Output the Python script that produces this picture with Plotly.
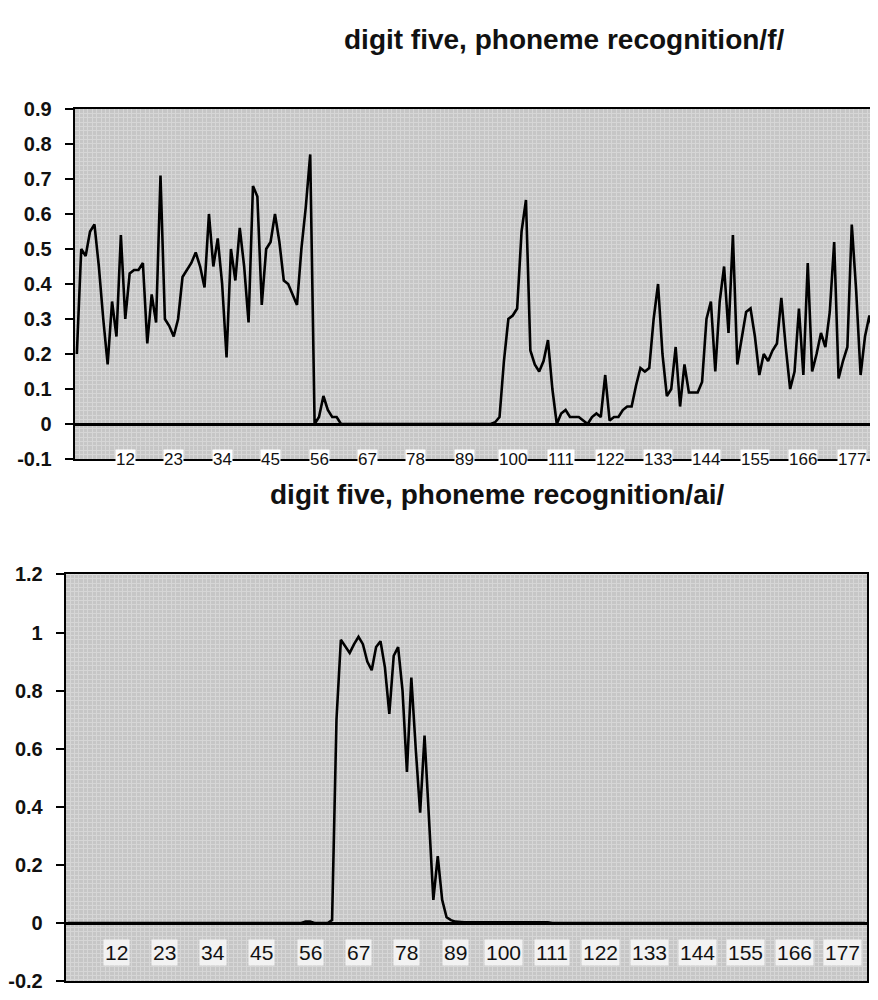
import plotly.graph_objects as go

# frame index 1..182 (category axis), labels every 11 frames
frames = list(range(1, 183))
tick_labels = [12, 23, 34, 45, 56, 67, 78, 89, 100, 111, 122, 133, 144, 155, 166, 177]

# output of the /f/ recogniser per frame
f_output = [
    0.20, 0.50, 0.48, 0.55, 0.57, 0.45, 0.30, 0.17, 0.35, 0.25,
    0.54, 0.30, 0.43, 0.44, 0.44, 0.46, 0.23, 0.37, 0.29, 0.71,
    0.30, 0.28, 0.25, 0.30, 0.42, 0.44, 0.46, 0.49, 0.45, 0.39,
    0.60, 0.45, 0.53, 0.40, 0.19, 0.50, 0.41, 0.56, 0.45, 0.29,
    0.68, 0.65, 0.34, 0.50, 0.52, 0.60, 0.52, 0.41, 0.40, 0.37,
    0.34, 0.50, 0.62, 0.77, 0.00, 0.02, 0.08, 0.04, 0.02, 0.02,
    0.00, 0.00, 0.00, 0.00, 0.00, 0.00, 0.00, 0.00, 0.00, 0.00,
    0.00, 0.00, 0.00, 0.00, 0.00, 0.00, 0.00, 0.00, 0.00, 0.00,
    0.00, 0.00, 0.00, 0.00, 0.00, 0.00, 0.00, 0.00, 0.00, 0.00,
    0.00, 0.00, 0.00, 0.00, 0.00, 0.005, 0.02, 0.18, 0.30, 0.31,
    0.33, 0.55, 0.64, 0.21, 0.17, 0.15, 0.18, 0.24, 0.10, 0.00,
    0.03, 0.04, 0.02, 0.02, 0.02, 0.01, 0.00, 0.02, 0.03, 0.02,
    0.14, 0.01, 0.02, 0.02, 0.04, 0.05, 0.05, 0.11, 0.16, 0.15,
    0.16, 0.30, 0.40, 0.20, 0.08, 0.10, 0.22, 0.05, 0.17, 0.09,
    0.09, 0.09, 0.12, 0.30, 0.35, 0.15, 0.35, 0.45, 0.26, 0.54,
    0.17, 0.25, 0.32, 0.33, 0.25, 0.14, 0.20, 0.18, 0.21, 0.23,
    0.36, 0.22, 0.10, 0.15, 0.33, 0.14, 0.46, 0.15, 0.20, 0.26,
    0.22, 0.32, 0.52, 0.13, 0.18, 0.22, 0.57, 0.38, 0.14, 0.25,
    0.31, 0.25,
]

# output of the /ai/ recogniser per frame
ai_output = [
    0.00, 0.00, 0.00, 0.00, 0.00, 0.00, 0.00, 0.00, 0.00, 0.00,
    0.00, 0.00, 0.00, 0.00, 0.00, 0.00, 0.00, 0.00, 0.00, 0.00,
    0.00, 0.00, 0.00, 0.00, 0.00, 0.00, 0.00, 0.00, 0.00, 0.00,
    0.00, 0.00, 0.00, 0.00, 0.00, 0.00, 0.00, 0.00, 0.00, 0.00,
    0.00, 0.00, 0.00, 0.00, 0.00, 0.00, 0.00, 0.00, 0.00, 0.00,
    0.00, 0.00, 0.00, 0.00, 0.005, 0.005, 0.00, 0.00, 0.00, 0.00,
    0.01, 0.70, 0.975, 0.95, 0.93, 0.96, 0.985, 0.96, 0.90, 0.87,
    0.95, 0.97, 0.88, 0.72, 0.92, 0.95, 0.80, 0.52, 0.845, 0.60,
    0.38, 0.645, 0.35, 0.08, 0.23, 0.08, 0.02, 0.01, 0.005, 0.003,
    0.003, 0.003, 0.003, 0.003, 0.003, 0.003, 0.003, 0.003, 0.003, 0.003,
    0.003, 0.003, 0.003, 0.003, 0.003, 0.003, 0.003, 0.003, 0.003, 0.003,
    0.00, 0.00, 0.00, 0.00, 0.00, 0.00, 0.00, 0.00, 0.00, 0.00,
    0.00, 0.00, 0.00, 0.00, 0.00, 0.00, 0.00, 0.00, 0.00, 0.00,
    0.00, 0.00, 0.00, 0.00, 0.00, 0.00, 0.00, 0.00, 0.00, 0.00,
    0.00, 0.00, 0.00, 0.00, 0.00, 0.00, 0.00, 0.00, 0.00, 0.00,
    0.00, 0.00, 0.00, 0.00, 0.00, 0.00, 0.00, 0.00, 0.00, 0.00,
    0.00, 0.00, 0.00, 0.00, 0.00, 0.00, 0.00, 0.00, 0.00, 0.00,
    0.00, 0.00, 0.00, 0.00, 0.00, 0.00, 0.00, 0.00, 0.00, 0.00,
    0.00, 0.00,
]

top_yticks = [0.9, 0.8, 0.7, 0.6, 0.5, 0.4, 0.3, 0.2, 0.1, 0, -0.1]
bot_yticks = [1.2, 1, 0.8, 0.6, 0.4, 0.2, 0, -0.2]

FONT = "Liberation Sans, Arial, sans-serif"
PLOT_BG = "#c6c6c6"
MESH = "#d6d6d6"

# the page body adds an 8px margin, so lay out on a canvas that is 8px smaller
OFF = 8
W, H = 878 - OFF, 1000 - OFF


def px_x(p):
    return (p - OFF) / W


def px_y(p):
    return 1 - (p - OFF) / H


fig = go.Figure()
fig.add_trace(go.Scatter(x=frames, y=f_output, mode="lines",
                         line=dict(color="black", width=2.6), xaxis="x", yaxis="y"))
fig.add_trace(go.Scatter(x=frames, y=ai_output, mode="lines",
                         line=dict(color="black", width=2.6), xaxis="x2", yaxis="y2"))

xcommon = dict(range=[0.5, 182.5], showticklabels=False, ticks="", showgrid=False,
               zeroline=False, showline=True, linecolor="black", linewidth=2, mirror=True,
               minor=dict(tick0=0.5, dtick=1, showgrid=True, gridcolor=MESH, gridwidth=1))
ycommon = dict(showgrid=False, zeroline=True, zerolinecolor="black", zerolinewidth=3,
               showline=True, linecolor="black", linewidth=2, mirror=True,
               ticks="outside", ticklen=8, tickwidth=2, tickcolor="black",
               ticklabelstandoff=9,
               tickfont=dict(family=FONT, size=20, color="#111", weight="bold"))

fig.update_layout(
    width=W, height=H,
    margin=dict(l=0, r=0, t=0, b=0),
    paper_bgcolor="white", plot_bgcolor=PLOT_BG,
    showlegend=False,
    xaxis=dict(domain=[px_x(71), px_x(877)], anchor="y", **xcommon),
    yaxis=dict(domain=[px_y(458), px_y(100)], anchor="x", range=[-0.1, 0.9],
               tickvals=top_yticks, ticktext=[str(v) for v in top_yticks],
               minor=dict(tick0=0, dtick=0.0125, showgrid=True, gridcolor=MESH, gridwidth=1),
               **ycommon),
    xaxis2=dict(domain=[px_x(62), px_x(868)], anchor="y2", **xcommon),
    yaxis2=dict(domain=[px_y(992), px_y(576)], anchor="x2", range=[-0.2, 1.2],
                tickvals=bot_yticks, ticktext=[str(v) for v in bot_yticks],
                minor=dict(tick0=0, dtick=0.015, showgrid=True, gridcolor=MESH, gridwidth=1),
                **ycommon),
)

# category labels: on the bottom frame line in the top chart, inside the lower band in the bottom chart
for t in tick_labels:
    fig.add_annotation(x=t, y=-0.1, xref="x", yref="y", text=str(t), showarrow=False,
                       font=dict(family=FONT, size=17, color="#111"),
                       bgcolor="white", borderpad=0, yanchor="middle")
    fig.add_annotation(x=t, y=-0.1, xref="x2", yref="y2", text=str(t), showarrow=False,
                       font=dict(family=FONT, size=21, color="#111"),
                       bgcolor="#f2f2f2", borderpad=1, yanchor="middle")

fig.add_annotation(x=px_x(563), y=px_y(29), xref="paper", yref="paper", yanchor="middle",
                   text="digit five, phoneme recognition/f/", showarrow=False,
                   font=dict(family=FONT, size=28, color="#111", weight="bold"))
fig.add_annotation(x=px_x(496), y=px_y(494), xref="paper", yref="paper", yanchor="middle",
                   text="digit five, phoneme recognition/ai/", showarrow=False,
                   font=dict(family=FONT, size=28, color="#111", weight="bold"))

fig.write_html("out.html")
